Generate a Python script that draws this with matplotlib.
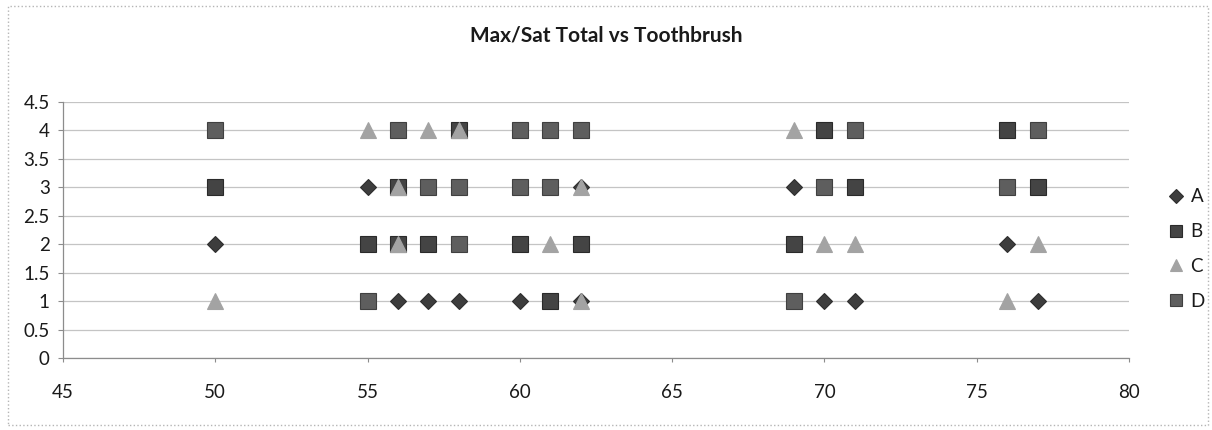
import matplotlib
matplotlib.use('Agg')
import matplotlib.pyplot as plt
from matplotlib.patches import Rectangle
from matplotlib.lines import Line2D

plt.rcParams['font.family'] = ['Lato', 'DejaVu Sans']

# Max/Sat total (x) vs toothbrush rating (y), one list pair per series
a_x = [50, 55, 56, 57, 58, 60, 62, 62, 69, 70, 71, 76, 77]
a_y = [2, 3, 1, 1, 1, 1, 3, 1, 3, 1, 1, 2, 1]

b_x = [50, 55, 56, 56, 57, 58, 60, 61, 62, 69, 70, 71, 76, 77]
b_y = [3, 2, 3, 2, 2, 4, 2, 1, 2, 2, 4, 3, 4, 3]

c_x = [50, 55, 56, 56, 57, 58, 61, 62, 62, 69, 70, 71, 76, 77]
c_y = [1, 4, 3, 2, 4, 4, 2, 3, 1, 4, 2, 2, 1, 2]

d_x = [50, 55, 56, 57, 58, 58, 60, 60, 61, 61, 62, 69, 70, 71, 76, 77]
d_y = [4, 1, 4, 3, 3, 2, 4, 3, 4, 3, 4, 1, 3, 4, 3, 4]

labels = ['A', 'B', 'C', 'D']
x_ticks = [45, 50, 55, 60, 65, 70, 75, 80]
y_ticks = [0, 0.5, 1, 1.5, 2, 2.5, 3, 3.5, 4, 4.5]

fig = plt.figure(figsize=(12.12, 4.3), dpi=100)
ax = fig.add_axes([0.052, 0.1674, 0.8795, 0.5954])

styles = [
  dict(marker='D', ms=8, color='#3d3d3d', mec='#2e2e2e'),
  dict(marker='s', ms=11, color='#444444', mec='#2a2a2a'),
  dict(marker='^', ms=11, color='#a3a3a3', mec='#a3a3a3'),
  dict(marker='s', ms=11, color='#5e5e5e', mec='#404040'),
]
series = [(a_x, a_y), (b_x, b_y), (c_x, c_y), (d_x, d_y)]

handles = []
for (xs, ys), st, lab in zip(series, styles, labels):
  ax.plot(xs, ys, linestyle='none', mew=0.8, zorder=3, **st)
  st_leg = dict(st, ms=st['ms'] * 0.85)
  handles.append(Line2D([], [], linestyle='none', mew=0.8, label=lab, **st_leg))

ax.set_xlim(45, 80)
ax.set_ylim(0, 4.5)
ax.set_xticks(x_ticks)
ax.set_yticks(y_ticks)
ax.set_yticklabels(['0', '0.5', '1', '1.5', '2', '2.5', '3', '3.5', '4', '4.5'])

ax.grid(axis='y', color='#c4c4c4', linewidth=0.9)
ax.set_axisbelow(True)
for side in ['top', 'right']:
  ax.spines[side].set_visible(False)
for side in ['left', 'bottom']:
  ax.spines[side].set_color('#8c8c8c')
  ax.spines[side].set_linewidth(0.9)

ax.tick_params(axis='x', direction='out', length=3, width=0.8, color='#8c8c8c',
               pad=16, labelsize=13.5, labelcolor='#1a1a1a')
ax.tick_params(axis='y', direction='out', length=3.5, width=0.8, color='#8c8c8c',
               pad=6, labelsize=13.5, labelcolor='#1a1a1a')

fig.text(0.5, 1 - 35 / 430, 'Max/Sat Total vs Toothbrush', ha='center', va='center',
         fontsize=15, fontweight='bold', color='#1a1a1a')

fig.legend(handles=handles, loc='center left', bbox_to_anchor=(0.956, 0.421),
           frameon=False, handlelength=1.0, handletextpad=0.3, labelspacing=0.95,
           borderaxespad=0, fontsize=13.5, labelcolor='#1a1a1a')

# dotted chart-area border
fig.patches.append(Rectangle((8 / 1212, 1 - 425 / 430), 1200 / 1212, 419 / 430,
                             transform=fig.transFigure, fill=False,
                             edgecolor='#b5b5b5', linestyle=':', linewidth=1.0))

fig.savefig('out.png', dpi=100)
